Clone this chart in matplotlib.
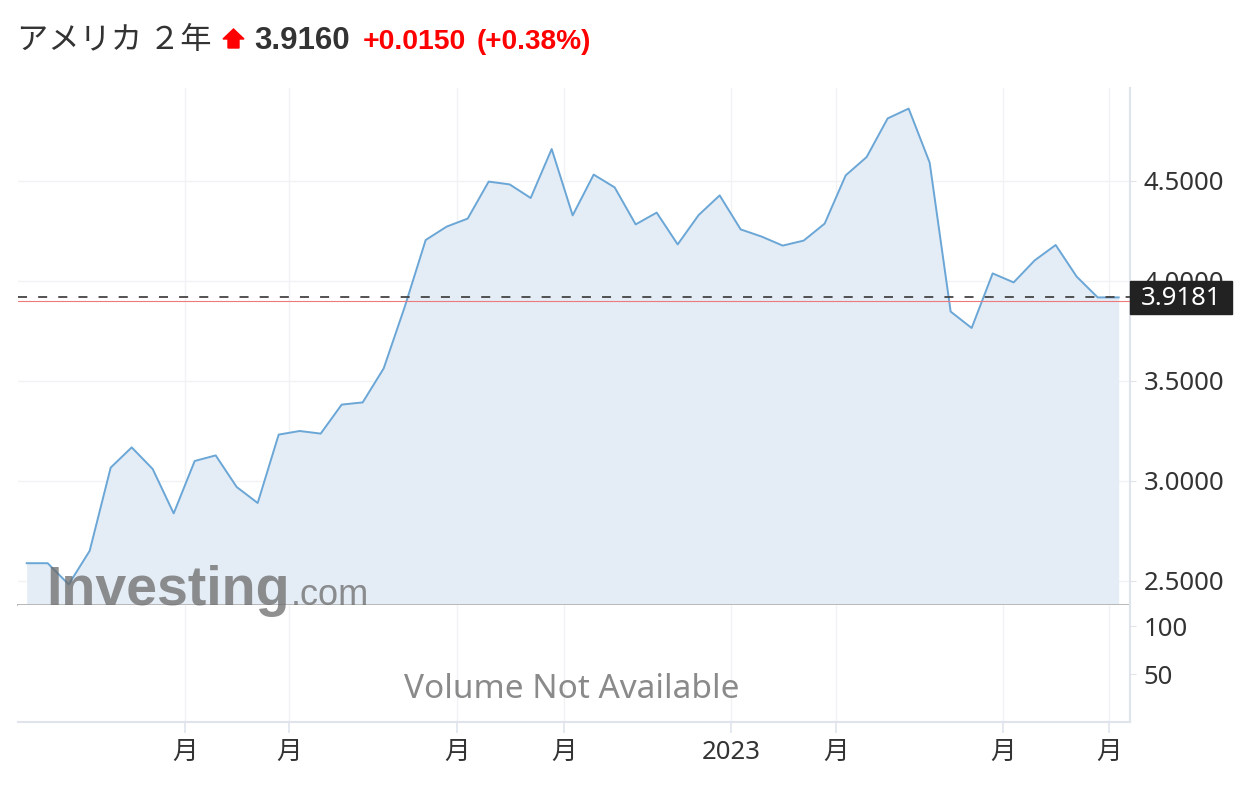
import matplotlib
matplotlib.use("Agg")
import matplotlib.pyplot as plt
from matplotlib.patches import Rectangle, Polygon
import numpy as np

# weekly US 2Y yield
yields = [2.589, 2.589, 2.483, 2.651, 3.067, 3.168, 3.060, 2.838, 3.100, 3.128,
          2.970, 2.890, 3.232, 3.250, 3.237, 3.382, 3.393, 3.563, 3.870, 4.205,
          4.272, 4.312, 4.497, 4.483, 4.415, 4.660, 4.328, 4.532, 4.468, 4.283,
          4.342, 4.183, 4.330, 4.428, 4.258, 4.222, 4.177, 4.202, 4.287, 4.528,
          4.620, 4.813, 4.862, 4.592, 3.847, 3.765, 4.038, 3.993, 4.103, 4.180,
          4.022, 3.918, 3.918]

month_ticks = [7.54, 12.49, 20.49, 25.58, 33.53, 38.53, 46.49, 51.54]
month_labels = ["月", "月", "月", "月", "2023", "月", "月", "月"]

price_ticks = [2.5, 3.0, 3.5, 4.0, 4.5]
vol_ticks = [50, 100]

last_price = 3.9181
prev_close = 3.901

title_name = "アメリカ ２年"
title_price = "3.9160"
title_chg = "+0.0150"
title_pct = "(+0.38%)"

plt.rcParams['font.family'] = ['Noto Sans', 'Noto Sans CJK JP', 'DejaVu Sans']
plt.rcParams['lines.scale_dashes'] = False

W, H = 1244, 788
fig = plt.figure(figsize=(W / 100, H / 100), dpi=100)

def fx(x):
    return x / W

def fy(y):
    return 1 - y / H

axis_col = '#dfe4ec'
grid_col = '#f1f2f5'
line_col = '#6aa6d6'
fill_col = '#e4ecf5'
lab_size = 18.5

ax = fig.add_axes([fx(18), fy(605), fx(1130) - fx(18), fy(88) - fy(605)])
axv = fig.add_axes([fx(18), fy(722), fx(1130) - fx(18), fy(605) - fy(722)], sharex=ax)

x = np.arange(len(yields))
ax.set_xlim(-0.414, 52.54)
ax.set_ylim(2.38, 4.965)
ax.fill_between(x, yields, ax.get_ylim()[0], color=fill_col, lw=0, zorder=2)
ax.plot(x, yields, color=line_col, lw=1.4, zorder=3)

ax.axhline(prev_close, color='#ee7b7b', lw=0.8, zorder=4)
ax.axhline(last_price, color='#444444', lw=1.3, dashes=(6.5, 8), zorder=5)

ax.set_yticks(price_ticks)
ax.set_yticklabels(["%.4f" % v for v in price_ticks])
ax.yaxis.tick_right()
ax.set_xticks(month_ticks)
ax.tick_params(axis='x', length=0, labelbottom=False)
ax.tick_params(axis='y', length=4, color=axis_col, pad=6, labelsize=lab_size, labelcolor='#333333')
ax.grid(True, color=grid_col, lw=1, zorder=0)
ax.set_axisbelow(True)
for s in ['top', 'left']:
    ax.spines[s].set_visible(False)
ax.spines['right'].set_color(axis_col)
ax.spines['right'].set_linewidth(1.5)
ax.spines['bottom'].set_color('#b8b8b8')
ax.spines['bottom'].set_linewidth(1.4)

axv.set_ylim(0, 121.9)
axv.set_yticks(vol_ticks)
axv.set_yticklabels([str(v) for v in vol_ticks])
axv.yaxis.tick_right()
axv.set_xticks(month_ticks)
axv.set_xticklabels(month_labels)
axv.tick_params(axis='x', length=8, color=axis_col, width=1.2, pad=5, labelsize=lab_size, labelcolor='#333333')
axv.tick_params(axis='y', length=4, color=axis_col, pad=6, labelsize=lab_size, labelcolor='#333333')
axv.grid(True, axis='x', color=grid_col, lw=1)
axv.set_axisbelow(True)
for s in ['top', 'left']:
    axv.spines[s].set_visible(False)
for s in ['right', 'bottom']:
    axv.spines[s].set_color(axis_col)
    axv.spines[s].set_linewidth(1.5)

fig.text(fx(572), fy(689), "Volume Not Available", ha='center', va='center',
         color='#8a8a8a', fontsize=24)

# watermark
fig.text(fx(46), fy(605), "Investing", fontsize=40, fontweight='bold',
         family='Liberation Sans', color='#6b6b6b', alpha=0.75, va='baseline')
fig.text(fx(291), fy(605), ".com", fontsize=26, family='Liberation Sans',
         color='#6b6b6b', alpha=0.75, va='baseline')

# last value label
fig.add_artist(Rectangle((fx(1130), fy(314)), fx(1232) - fx(1130), fy(281) - fy(314),
                         transform=fig.transFigure, color='#222222'))
fig.text(fx(1181), fy(298), "%.4f" % last_price, color='white', fontsize=lab_size,
         ha='center', va='center')

# header
fig.text(fx(17), fy(49), title_name, fontsize=22.5, color='#333333',
         family=['Noto Sans CJK JP'], va='baseline')
arrow = [(233.5, 29), (244, 39), (239, 39), (239, 48), (228, 48), (228, 39), (223, 39)]
fig.add_artist(Polygon([(fx(a), fy(b)) for a, b in arrow], closed=True,
                       transform=fig.transFigure, color='#ff0000'))
fig.text(fx(254), fy(49), title_price, fontsize=22.5, fontweight='bold',
         family='Liberation Sans', color='#333333', va='baseline')
fig.text(fx(363), fy(49), title_chg, fontsize=20.4, fontweight='bold',
         family='Liberation Sans', color='#ff0000', va='baseline')
fig.text(fx(477), fy(49), title_pct, fontsize=20.2, fontweight='bold',
         family='Liberation Sans', color='#ff0000', va='baseline')

fig.savefig("out.png", dpi=100)
